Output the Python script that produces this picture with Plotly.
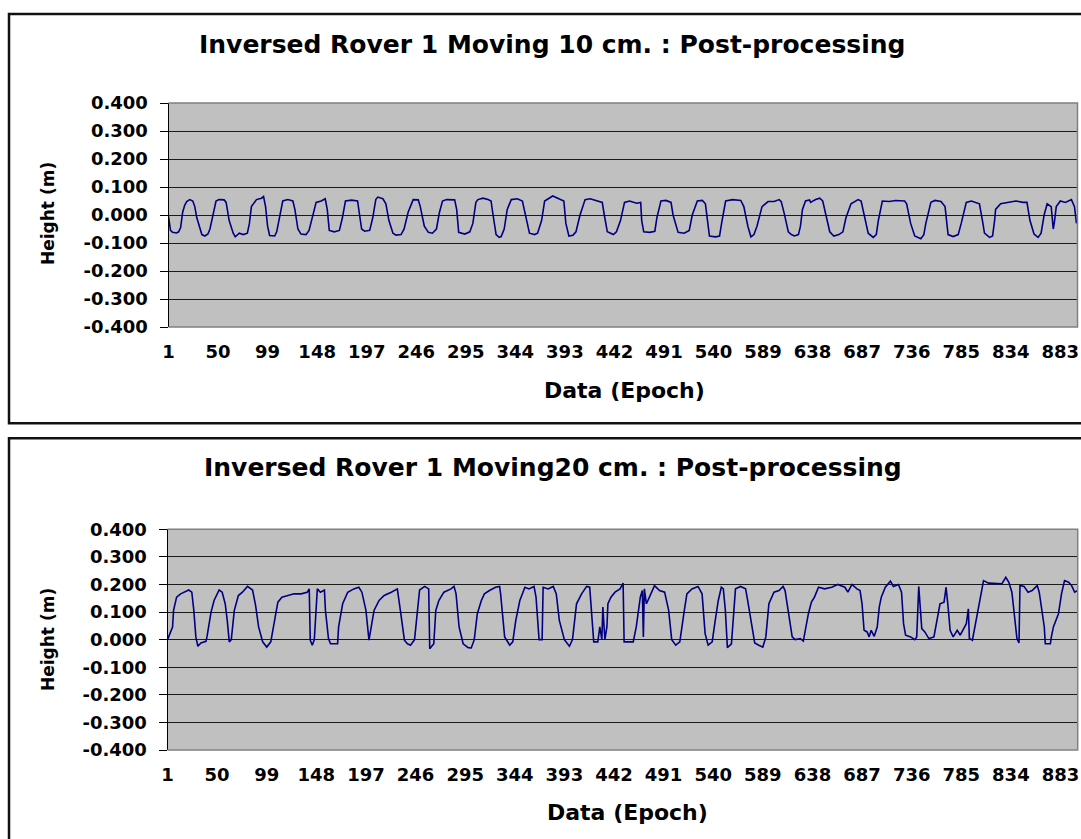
import plotly.graph_objects as go

# ---- Data: height (m) against epoch, post-processing, rover 1 ----
EPOCH_10CM = [1, 3, 5, 9, 11, 13, 15, 17, 19, 22, 25, 27, 29, 32, 34, 37, 40, 42, 45, 48,
              51, 56, 58, 61, 65, 67, 71, 75, 79, 81, 83, 88, 93, 95, 97, 99, 101, 106, 108, 110,
              114, 119, 124, 126, 129, 132, 137, 140, 144, 147, 152, 156, 158, 160, 165, 170, 173, 176, 182, 188,
              190, 192, 195, 200, 203, 206, 208, 213, 216, 219, 223, 226, 231, 234, 238, 243, 248, 250, 254, 258,
              262, 266, 269, 272, 276, 284, 286, 288, 294, 299, 302, 305, 307, 312, 317, 320, 322, 325, 328, 330,
              333, 336, 340, 346, 351, 354, 358, 363, 366, 370, 373, 381, 388, 392, 394, 397, 401, 404, 408, 413,
              418, 426, 430, 432, 435, 441, 444, 448, 452, 457, 464, 468, 469, 471, 477, 482, 484, 488, 493, 498,
              500, 505, 511, 516, 519, 524, 529, 532, 534, 536, 542, 546, 548, 552, 559, 567, 570, 574, 577, 580,
              583, 588, 594, 600, 605, 607, 610, 614, 617, 620, 624, 626, 628, 631, 635, 636, 641, 645, 648, 651,
              655, 659, 664, 668, 671, 676, 683, 686, 689, 693, 698, 701, 703, 707, 714, 720, 729, 731, 735, 739,
              745, 748, 750, 755, 759, 765, 769, 772, 777, 782, 785, 790, 795, 800, 803, 806, 808, 813, 816, 818,
              819, 824, 833, 839, 846, 850, 853, 857, 861, 864, 867, 870, 874, 876, 877, 879, 883, 888, 894, 897,
              899]
HEIGHT_10CM = [-0.005, -0.055, -0.062, -0.064, -0.060, -0.045, 0.010, 0.035, 0.048, 0.055, 0.050, 0.030, -0.010, -0.050, -0.070, -0.075, -0.068, -0.050, 0.000, 0.050,
               0.055, 0.054, 0.045, -0.020, -0.065, -0.078, -0.065, -0.070, -0.065, -0.030, 0.030, 0.055, 0.060, 0.066, 0.030, -0.040, -0.073, -0.075, -0.060, -0.020,
               0.050, 0.055, 0.050, 0.020, -0.050, -0.068, -0.070, -0.055, 0.000, 0.045, 0.050, 0.058, 0.020, -0.055, -0.060, -0.055, -0.010, 0.050, 0.053, 0.050,
               0.000, -0.050, -0.058, -0.055, -0.010, 0.055, 0.064, 0.058, 0.040, -0.020, -0.065, -0.072, -0.070, -0.050, 0.010, 0.055, 0.054, 0.030, -0.040, -0.062,
               -0.065, -0.050, 0.010, 0.050, 0.055, 0.054, 0.020, -0.062, -0.068, -0.060, -0.030, 0.045, 0.055, 0.060, 0.055, 0.050, 0.000, -0.070, -0.080, -0.077,
               -0.050, 0.020, 0.055, 0.058, 0.050, 0.000, -0.065, -0.070, -0.065, -0.020, 0.050, 0.068, 0.055, 0.050, -0.030, -0.075, -0.072, -0.060, 0.000, 0.055,
               0.058, 0.050, 0.045, 0.000, -0.060, -0.070, -0.060, -0.020, 0.045, 0.050, 0.042, 0.045, -0.020, -0.060, -0.062, -0.058, -0.010, 0.050, 0.052, 0.045,
               0.000, -0.062, -0.065, -0.055, 0.000, 0.050, 0.052, 0.040, -0.030, -0.075, -0.078, -0.075, -0.030, 0.050, 0.055, 0.052, 0.030, -0.040, -0.078, -0.070,
               -0.040, 0.030, 0.048, 0.048, 0.055, 0.048, 0.005, -0.060, -0.070, -0.075, -0.070, -0.040, 0.020, 0.050, 0.054, 0.045, 0.055, 0.060, 0.050, 0.000,
               -0.060, -0.075, -0.070, -0.060, -0.010, 0.040, 0.055, 0.050, 0.000, -0.065, -0.080, -0.070, -0.020, 0.050, 0.048, 0.052, 0.050, 0.040, -0.030, -0.075,
               -0.085, -0.070, -0.030, 0.045, 0.052, 0.048, 0.030, -0.070, -0.077, -0.070, -0.030, 0.045, 0.050, 0.045, 0.040, -0.020, -0.065, -0.080, -0.075, -0.020,
               0.020, 0.040, 0.045, 0.050, 0.045, 0.045, -0.020, -0.068, -0.080, -0.065, 0.000, 0.040, 0.030, -0.050, -0.030, 0.030, 0.050, 0.045, 0.055, 0.030,
               -0.030]

EPOCH_20CM = [1, 3, 6, 7, 10, 14, 17, 22, 25, 27, 29, 31, 34, 39, 40, 44, 47, 52, 55, 58,
              60, 62, 64, 67, 71, 75, 80, 85, 88, 91, 95, 99, 103, 106, 110, 114, 119, 126, 133, 139,
              141, 142, 144, 146, 149, 152, 156, 157, 160, 162, 169, 170, 174, 179, 185, 190, 193, 197, 200, 202,
              205, 210, 215, 222, 228, 231, 235, 238, 241, 245, 250, 255, 259, 260, 264, 266, 269, 274, 281, 284,
              286, 289, 293, 298, 301, 304, 307, 311, 314, 319, 325, 329, 330, 334, 339, 342, 345, 349, 354, 358,
              363, 365, 368, 371, 372, 377, 382, 385, 388, 393, 398, 401, 405, 410, 415, 418, 420, 422, 426, 428,
              430, 431, 433, 435, 436, 439, 443, 448, 451, 452, 456, 461, 464, 468, 470, 471, 472, 474, 477, 482,
              487, 492, 496, 499, 503, 507, 511, 514, 519, 525, 529, 532, 535, 539, 542, 545, 548, 550, 552, 554,
              558, 562, 567, 572, 574, 578, 581, 585, 589, 592, 595, 600, 605, 609, 611, 613, 616, 618, 621, 626,
              629, 631, 634, 637, 640, 644, 650, 657, 663, 670, 673, 677, 682, 685, 687, 689, 692, 694, 696, 699,
              702, 704, 706, 710, 715, 718, 723, 726, 728, 730, 735, 739, 741, 743, 744, 746, 749, 753, 758, 761,
              764, 768, 770, 772, 774, 777, 781, 784, 787, 790, 792, 793, 796, 799, 803, 807, 812, 819, 825, 829,
              832, 835, 837, 840, 842, 843, 847, 851, 855, 860, 862, 864, 867, 868, 873, 874, 876, 881, 884, 887,
              891, 894, 897, 900]
HEIGHT_20CM = [0.000, 0.016, 0.046, 0.106, 0.154, 0.166, 0.172, 0.180, 0.172, 0.106, 0.010, -0.024, -0.012, -0.006, 0.010, 0.100, 0.142, 0.180, 0.172, 0.130,
               0.070, -0.008, 0.000, 0.106, 0.160, 0.172, 0.193, 0.180, 0.124, 0.046, -0.008, -0.027, -0.008, 0.052, 0.136, 0.154, 0.160, 0.166, 0.166, 0.172,
               0.184, -0.002, -0.020, 0.000, 0.184, 0.172, 0.180, 0.106, 0.004, -0.015, -0.015, 0.046, 0.130, 0.172, 0.184, 0.190, 0.172, 0.106, -0.002, 0.046,
               0.106, 0.142, 0.160, 0.172, 0.184, 0.106, -0.002, -0.015, -0.020, 0.000, 0.180, 0.193, 0.184, -0.033, -0.015, 0.106, 0.142, 0.172, 0.184, 0.193,
               0.166, 0.046, -0.015, -0.029, -0.030, 0.000, 0.094, 0.142, 0.166, 0.178, 0.190, 0.193, 0.166, 0.010, -0.020, -0.008, 0.070, 0.142, 0.190, 0.184,
               0.193, 0.154, 0.000, 0.000, 0.190, 0.184, 0.193, 0.166, 0.070, 0.000, -0.024, 0.000, 0.130, 0.166, 0.193, 0.190, 0.106, -0.008, -0.008, 0.046,
               0.000, 0.118, 0.000, 0.046, 0.130, 0.154, 0.172, 0.184, 0.205, -0.008, -0.008, -0.008, 0.046, 0.154, 0.178, 0.010, 0.184, 0.130, 0.154, 0.196,
               0.178, 0.172, 0.106, 0.000, -0.020, -0.008, 0.094, 0.166, 0.184, 0.193, 0.166, 0.022, -0.020, -0.008, 0.070, 0.142, 0.190, 0.184, 0.106, -0.029,
               -0.015, 0.184, 0.193, 0.184, 0.142, 0.046, -0.012, -0.020, -0.027, 0.010, 0.130, 0.172, 0.178, 0.193, 0.178, 0.130, 0.046, 0.010, 0.000, 0.004,
               -0.005, 0.034, 0.094, 0.136, 0.154, 0.190, 0.184, 0.190, 0.200, 0.190, 0.172, 0.200, 0.184, 0.178, 0.130, 0.034, 0.028, 0.010, 0.034, 0.012,
               0.046, 0.118, 0.154, 0.190, 0.212, 0.193, 0.200, 0.172, 0.058, 0.016, 0.010, 0.000, 0.010, 0.193, 0.130, 0.040, 0.028, 0.004, 0.010, 0.070,
               0.130, 0.136, 0.190, 0.118, 0.034, 0.010, 0.034, 0.016, 0.040, 0.058, 0.112, 0.004, -0.002, 0.058, 0.142, 0.214, 0.205, 0.202, 0.202, 0.226,
               0.208, 0.172, 0.106, 0.004, -0.012, 0.196, 0.193, 0.172, 0.178, 0.196, 0.172, 0.118, 0.046, -0.015, -0.015, 0.010, 0.046, 0.094, 0.166, 0.214,
               0.208, 0.196, 0.172, 0.178]

X_TICKS = [1, 50, 99, 148, 197, 246, 295, 344, 393, 442, 491, 540, 589, 638, 687, 736, 785, 834, 883]
Y_TICKS = [0.4, 0.3, 0.2, 0.1, 0.0, -0.1, -0.2, -0.3, -0.4]
Y_LABELS = ["0.400", "0.300", "0.200", "0.100", "0.000", "-0.100", "-0.200", "-0.300", "-0.400"]

TITLE_10CM = "Inversed Rover 1 Moving 10 cm. : Post-processing"
TITLE_20CM = "Inversed Rover 1 Moving20 cm. : Post-processing"
X_TITLE = "Data (Epoch)"
Y_TITLE = "Height (m)"

# ---- Page geometry (pixels) ----
W, H = 1081, 839
FONT = "DejaVu Sans"


def fx(px):
    return px / W


def fy(py):
    return 1 - py / H


tick_font = dict(family=FONT, size=18, color="black", weight="bold")

fig = go.Figure()
fig.add_trace(go.Scatter(x=EPOCH_10CM, y=HEIGHT_10CM, mode="lines",
                         line=dict(color="#000080", width=1.6),
                         xaxis="x", yaxis="y", showlegend=False, hoverinfo="skip"))
fig.add_trace(go.Scatter(x=EPOCH_20CM, y=HEIGHT_20CM, mode="lines",
                         line=dict(color="#000080", width=1.6),
                         xaxis="x2", yaxis="y2", showlegend=False, hoverinfo="skip"))


def xaxis_cfg(domain, anchor):
    return dict(domain=domain, anchor=anchor, range=[1, 900], tickmode="array",
                tickvals=X_TICKS, ticktext=[str(t) for t in X_TICKS],
                showgrid=False, zeroline=False, showline=False, ticks="",
                ticklabelstandoff=12, tickfont=tick_font, fixedrange=True,
                automargin=False)


def yaxis_cfg(domain, anchor):
    return dict(domain=domain, anchor=anchor, range=[-0.4, 0.4], tickmode="array",
                tickvals=Y_TICKS, ticktext=Y_LABELS,
                showgrid=True, gridcolor="#1a1a1a", gridwidth=1, zeroline=False,
                showline=True, linecolor="black", linewidth=1,
                ticks="outside", ticklen=8, tickcolor="black", tickwidth=1,
                ticklabelstandoff=8, tickfont=tick_font, fixedrange=True,
                automargin=False)


top_y = [fy(327), fy(103)]
bot_y = [fy(750), fy(529.3)]

shapes = []
# plot-area frame (top, right, bottom edges) in grey
for xr, yr in (("x domain", "y domain"), ("x2 domain", "y2 domain")):
    shapes.append(dict(type="path", xref=xr, yref=yr, path="M 0,1 L 1,1 L 1,0 L 0,0",
                       line=dict(color="#808080", width=1.5), layer="above"))
# chart frames
shapes.append(dict(type="rect", xref="paper", yref="paper",
                   x0=fx(9), x1=fx(1090), y0=fy(423.3), y1=fy(14),
                   line=dict(color="#111111", width=2.5), fillcolor="rgba(0,0,0,0)"))
shapes.append(dict(type="rect", xref="paper", yref="paper",
                   x0=fx(9), x1=fx(1090), y0=fy(860), y1=fy(438.3),
                   line=dict(color="#111111", width=2.5), fillcolor="rgba(0,0,0,0)"))

title_font = dict(family=FONT, size=25, color="black", weight="bold")
axis_title_font = dict(family=FONT, size=22, color="black", weight="bold")
ytitle_font = dict(family=FONT, size=17, color="black", weight="bold")

annotations = [
    dict(text=TITLE_10CM, x=fx(552), y=fy(44.5), xref="paper", yref="paper",
         showarrow=False, font=title_font, xanchor="center", yanchor="middle"),
    dict(text=TITLE_20CM, x=fx(553), y=fy(467.5), xref="paper", yref="paper",
         showarrow=False, font=title_font, xanchor="center", yanchor="middle"),
    dict(text=X_TITLE, x=fx(624), y=fy(390), xref="paper", yref="paper",
         showarrow=False, font=axis_title_font, xanchor="center", yanchor="middle"),
    dict(text=X_TITLE, x=fx(627), y=fy(812), xref="paper", yref="paper",
         showarrow=False, font=axis_title_font, xanchor="center", yanchor="middle"),
    dict(text=Y_TITLE, x=fx(48), y=fy(214), xref="paper", yref="paper", textangle=-90,
         showarrow=False, font=ytitle_font, xanchor="center", yanchor="middle"),
    dict(text=Y_TITLE, x=fx(48), y=fy(640), xref="paper", yref="paper", textangle=-90,
         showarrow=False, font=ytitle_font, xanchor="center", yanchor="middle"),
]

fig.update_layout(
    width=W, height=H, autosize=False,
    margin=dict(l=0, r=0, t=0, b=0, pad=0, autoexpand=False),
    paper_bgcolor="white", plot_bgcolor="#C0C0C0",
    xaxis=xaxis_cfg([fx(168.5), fx(1077.5)], "y"),
    yaxis=yaxis_cfg(top_y, "x"),
    xaxis2=xaxis_cfg([fx(167.5), fx(1077.7)], "y2"),
    yaxis2=yaxis_cfg(bot_y, "x2"),
    shapes=shapes,
    annotations=annotations,
    showlegend=False,
)

fig.write_html("out.html")
